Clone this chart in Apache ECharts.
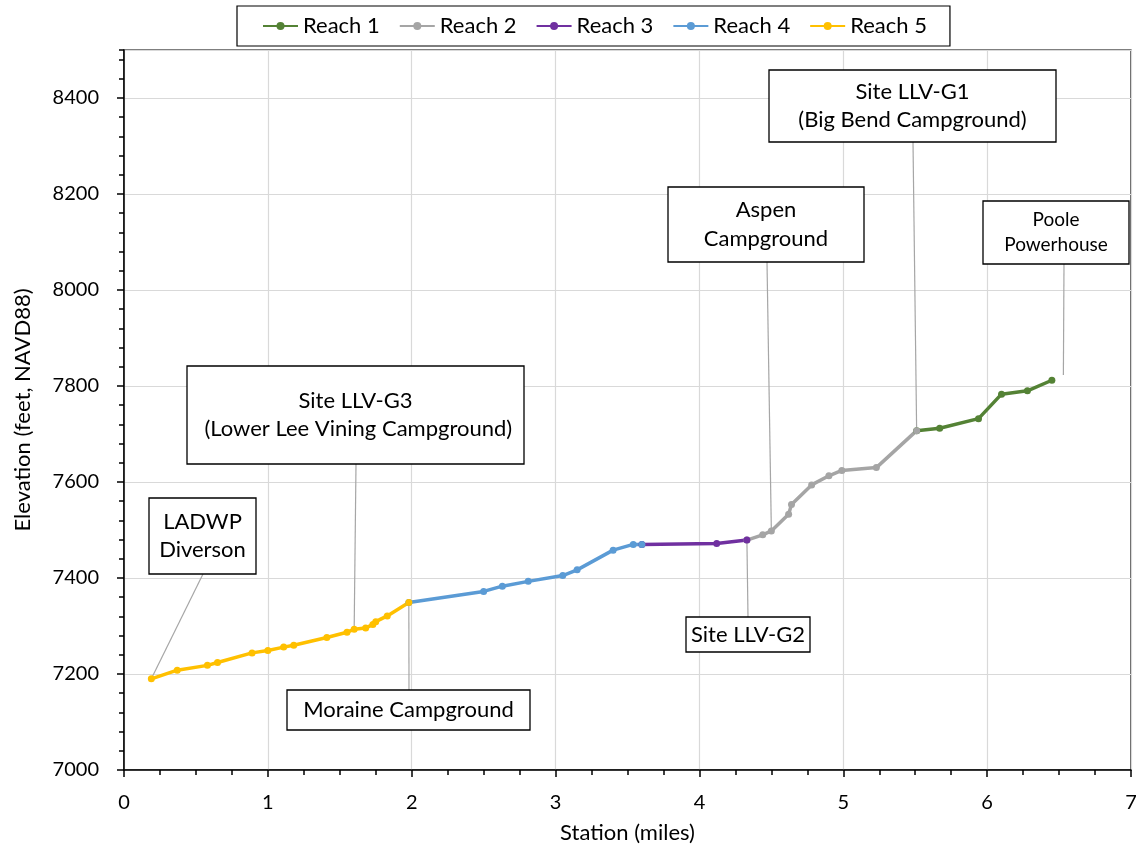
<!DOCTYPE html>
<html><head><meta charset="utf-8">
<script src="https://cdn.jsdelivr.net/npm/echarts@6/dist/echarts.min.js"></script>
<style>html,body{margin:0;padding:0;background:#fff}#c{width:1136px;height:845px}</style>
</head><body><div id="c"></div><script>
// ---- data ----
const seriesNames = ['Reach 1', 'Reach 2', 'Reach 3', 'Reach 4', 'Reach 5'];
const reach1Station = [5.51, 5.67, 5.94, 6.10, 6.28, 6.45];
const reach1Elev    = [7707, 7712, 7732, 7783, 7790, 7812];
const reach2Station = [4.33, 4.44, 4.50, 4.62, 4.64, 4.78, 4.90, 4.99, 5.23, 5.51];
const reach2Elev    = [7479, 7490, 7498, 7533, 7553, 7594, 7613, 7624, 7630, 7707];
const reach3Station = [3.60, 4.12, 4.33];
const reach3Elev    = [7470, 7472, 7479];
const reach4Station = [1.98, 2.50, 2.63, 2.81, 3.05, 3.15, 3.40, 3.54, 3.60];
const reach4Elev    = [7349, 7372, 7383, 7393, 7405, 7417, 7458, 7470, 7470];
const reach5Station = [0.19, 0.37, 0.58, 0.65, 0.89, 1.00, 1.11, 1.18, 1.41, 1.55, 1.60, 1.68, 1.73, 1.75, 1.83, 1.98];
const reach5Elev    = [7190, 7208, 7218, 7224, 7244, 7249, 7256, 7260, 7276, 7287, 7293, 7296, 7303, 7309, 7321, 7349];
const annotationText = [
  ['LADWP', 'Diverson'],
  ['Site LLV-G3', ' (Lower Lee Vining Campground)'],
  ['Moraine Campground'],
  ['Site LLV-G2'],
  ['Aspen', 'Campground'],
  ['Site LLV-G1', '(Big Bend Campground)'],
  ['Poole', 'Powerhouse']
];
const annotationAnchorStation = [0.19, 1.60, 1.98, 4.33, 4.50, 5.51, 6.53];
const annotationAnchorElev    = [7190, 7293, 7349, 7479, 7498, 7707, 7823];

// ---- layout / style (not data) ----
const colors = ['#548235', '#A5A5A5', '#7030A0', '#5B9BD5', '#FFC000'];
const FONT = 'Lato';
// box: x, y, w, h, leader start x, leader start y, font size
const boxes = [
  [149, 498, 107, 76, 203, 574, 22],
  [187, 366, 337, 98, 356, 464, 22],
  [287, 690, 243, 40, 409, 690, 22],
  [686, 617, 124, 35, 748, 617, 22],
  [668, 187, 196, 75, 767, 262, 22],
  [769, 70, 287, 72, 913, 142, 22],
  [983, 201, 146, 63, 1064, 264, 19]
];

function zip(xs, ys) { return xs.map((x, i) => [x, ys[i]]); }
const allStations = [reach1Station, reach2Station, reach3Station, reach4Station, reach5Station];
const allElevs = [reach1Elev, reach2Elev, reach3Elev, reach4Elev, reach5Elev];

const chart = echarts.init(document.getElementById('c'), null, {renderer: 'canvas'});
const series = seriesNames.map((n, i) => ({
  name: n, type: 'line', data: zip(allStations[i], allElevs[i]),
  yAxisIndex: 0,
  symbol: 'circle', symbolSize: 7, showSymbol: true,
  lineStyle: {width: 3.5, color: colors[i]},
  itemStyle: {color: colors[i]},
  emphasis: {disabled: true}, animation: false, z: 2
}));

chart.setOption({
  animation: false,
  textStyle: {fontFamily: FONT},
  grid: {left: 124, right: 5, top: 50, bottom: 75, outerBoundsMode: 'none', containLabel: false,
    show: true, borderColor: '#000', borderWidth: 1.2, backgroundColor: 'transparent'},
  legend: {
    data: seriesNames, left: 237, top: 6,
    padding: [9, 23, 9, 25], itemGap: 19, itemWidth: 35, itemHeight: 10,
    borderColor: '#000', borderWidth: 1.2,
    textStyle: {fontSize: 22, color: '#000', fontFamily: FONT}
  },
  xAxis: {
    type: 'value', min: 0, max: 7, interval: 1,
    name: 'Station (miles)', nameLocation: 'middle', nameGap: 52,
    nameTextStyle: {fontSize: 22, color: '#000', fontFamily: FONT},
    axisLine: {show: true, lineStyle: {color: '#000', width: 1.5}},
    axisTick: {show: true, length: 7, lineStyle: {color: '#000', width: 1.5}},
    minorTick: {show: true, splitNumber: 4, length: 5, lineStyle: {color: '#000', width: 1.5}},
    axisLabel: {fontSize: 20, color: '#000', margin: 23, fontFamily: FONT},
    splitLine: {show: true, lineStyle: {color: '#D9D9D9', width: 1.2}}
  },
  yAxis: [{
    type: 'value', min: 7000, max: 8500, interval: 200,
    name: 'Elevation (feet, NAVD88)', nameLocation: 'middle', nameGap: 90,
    nameTextStyle: {fontSize: 22, color: '#000', fontFamily: FONT},
    axisLine: {show: true, lineStyle: {color: '#000', width: 1.5}},
    axisTick: {show: true, length: 7, lineStyle: {color: '#000', width: 1.5}},
    axisLabel: {fontSize: 20, color: '#000', margin: 25, fontFamily: FONT, showMaxLabel: false,
      formatter: v => (v % 200 === 0 ? String(v) : '')},
    splitLine: {show: true, lineStyle: {color: '#D9D9D9', width: 1.2}}
  }, {
    type: 'value', min: 7000, max: 8500, interval: 40, position: 'left', offset: 0,
    axisLine: {show: false},
    axisTick: {show: true, length: 5, lineStyle: {color: '#000', width: 1.5}},
    axisLabel: {show: false},
    splitLine: {show: false}
  }],
  series: series
});

// ---- annotation callouts ----
const graphics = [];
annotationText.forEach((lines, i) => {
  const b = boxes[i];
  const p = chart.convertToPixel({gridIndex: 0}, [annotationAnchorStation[i], annotationAnchorElev[i]]);
  graphics.push({
    type: 'line', z: 1, silent: true,
    shape: {x1: b[4], y1: b[5], x2: p[0], y2: p[1]},
    style: {stroke: '#A6A6A6', lineWidth: 1.2}
  });
  graphics.push({
    type: 'rect', z: 5, silent: true,
    shape: {x: b[0], y: b[1], width: b[2], height: b[3]},
    style: {fill: '#fff', stroke: '#000', lineWidth: 1.3}
  });
  const lh = b[6] * 1.3;
  const cy = b[1] + b[3] / 2;
  lines.forEach((t, k) => {
    graphics.push({
      type: 'text', z: 6, silent: true,
      x: b[0] + b[2] / 2, y: cy + (k - (lines.length - 1) / 2) * lh,
      style: {text: t, fontSize: b[6], fontFamily: FONT, fill: '#000', align: 'center', verticalAlign: 'middle'}
    });
  });
});
chart.setOption({graphic: graphics});
</script></body></html>
